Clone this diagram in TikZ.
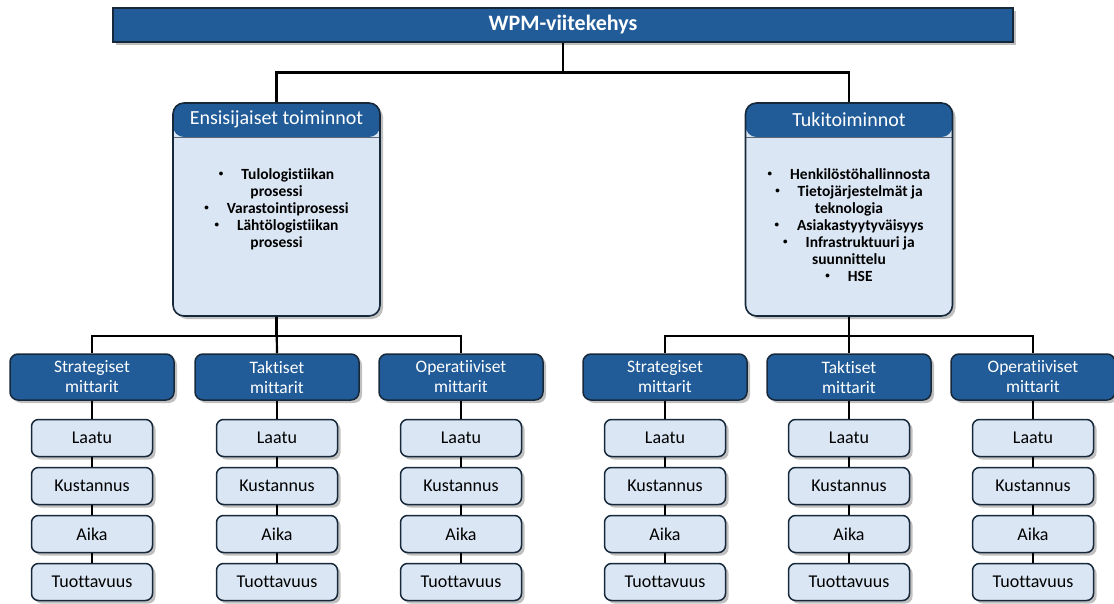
\documentclass[tikz,border=0pt]{standalone}
\usepackage{fontspec}
\setmainfont[Ligatures=NoCommon]{Carlito}
\usepackage{tikz}
\usetikzlibrary{shadows}
\definecolor{hdblue}{HTML}{215C98}
\definecolor{paleblue}{HTML}{DAE6F3}
\definecolor{edgeblue}{HTML}{16283A}
\newcommand{\bul}{\raisebox{0.18em}{\fontsize{9}{9}\selectfont\textbullet}\hspace{18pt}}

\begin{document}
\begin{tikzpicture}[x=1pt, y=-1pt,
  boxshadow/.style={drop shadow={shadow xshift=3pt, shadow yshift=-3pt, opacity=0.45, fill=black!55}},
  conn/.style={line width=2.2pt, black},
  topbox/.style={draw=edgeblue, line width=1.2pt, fill=hdblue, text=white, boxshadow,
    minimum width=900pt, minimum height=34pt, font=\bfseries\fontsize{22}{23}\selectfont},
  mainbox/.style={draw=edgeblue, line width=1.6pt, rounded corners=11pt, fill=paleblue, boxshadow,
    minimum width=207pt, minimum height=213pt,
    path picture={\fill[hdblue] (path picture bounding box.north west) rectangle ([yshift=-34pt]path picture bounding box.north east);
      \draw[edgeblue!70, line width=0.8pt] ([yshift=-34pt]path picture bounding box.north west) -- ([yshift=-34pt]path picture bounding box.north east);}},
  maintitle/.style={text=white, font=\fontsize{20}{22}\selectfont},
  bullets/.style={align=center, inner sep=0pt, font=\bfseries\fontsize{15.5}{17}\selectfont},
  metrichead/.style={draw=edgeblue, line width=1.5pt, rounded corners=8pt, fill=hdblue, text=white, boxshadow,
    minimum width=164pt, minimum height=46pt, align=center, font=\fontsize{17.5}{20}\selectfont},
  metricbox/.style={draw=edgeblue, line width=1.5pt, rounded corners=7pt, fill=paleblue, boxshadow,
    minimum width=121pt, minimum height=37pt, font=\fontsize{18}{19}\selectfont}
]
  \useasboundingbox (0,0) rectangle (1114,604);

  \node[topbox] (wpm) at (563,25) {WPM-viitekehys};

  % the two main groups
  \node[mainbox] (prim) at (276.5,209.5) {};
  \node[maintitle] (primT) at ([yshift=-17pt]prim.north) {Ensisijaiset toiminnot};
  \node[bullets, anchor=north] (primL) at ([yshift=-66pt]prim.north)
    {\bul Tulologistiikan\\prosessi\\\bul Varastointiprosessi\\\bul Lähtölogistiikan\\prosessi};

  \node[mainbox] (tuki) at (849,209.5) {};
  \node[maintitle] (tukiT) at ([yshift=-17pt]tuki.north) {Tukitoiminnot};
  \node[bullets, anchor=north] (tukiL) at ([yshift=-66pt]tuki.north)
    {\bul Henkilöstöhallinnosta\\\bul Tietojärjestelmät ja\\teknologia\\\bul Asiakastyytyväisyys\\
     \bul Infrastruktuuri ja\\suunnittelu\\\bul HSE};

  \draw[conn] (wpm.south) -- ++(0,30) -| (prim.north);
  \draw[conn] (wpm.south) -- ++(0,30) -| (tuki.north);

  % metric columns
  \foreach \g/\x/\kind in {a/92/Strategiset, b/277/Taktiset, c/461/Operatiiviset,
                          d/665/Strategiset, e/849/Taktiset, f/1033/Operatiiviset} {
    \node[metrichead] (m\g) at (\x,377) {\kind\\mittarit};
    \node[metricbox] (\g1) at (\x,438) {Laatu};
    \node[metricbox] (\g2) at (\x,486) {Kustannus};
    \node[metricbox] (\g3) at (\x,534) {Aika};
    \node[metricbox] (\g4) at (\x,582) {Tuottavuus};
    \draw[conn] (m\g.south) -- (\g1.north);
    \draw[conn] (\g1.south) -- (\g2.north);
    \draw[conn] (\g2.south) -- (\g3.north);
    \draw[conn] (\g3.south) -- (\g4.north);
  }

  \draw[conn] (prim.south) -- ++(0,19) -| (ma.north);
  \draw[conn] (prim.south) -- ++(0,19) -| (mc.north);
  \draw[conn] (prim.south) -- (mb.north);
  \draw[conn] (tuki.south) -- ++(0,19) -| (md.north);
  \draw[conn] (tuki.south) -- ++(0,19) -| (mf.north);
  \draw[conn] (tuki.south) -- (me.north);
\end{tikzpicture}
\end{document}
